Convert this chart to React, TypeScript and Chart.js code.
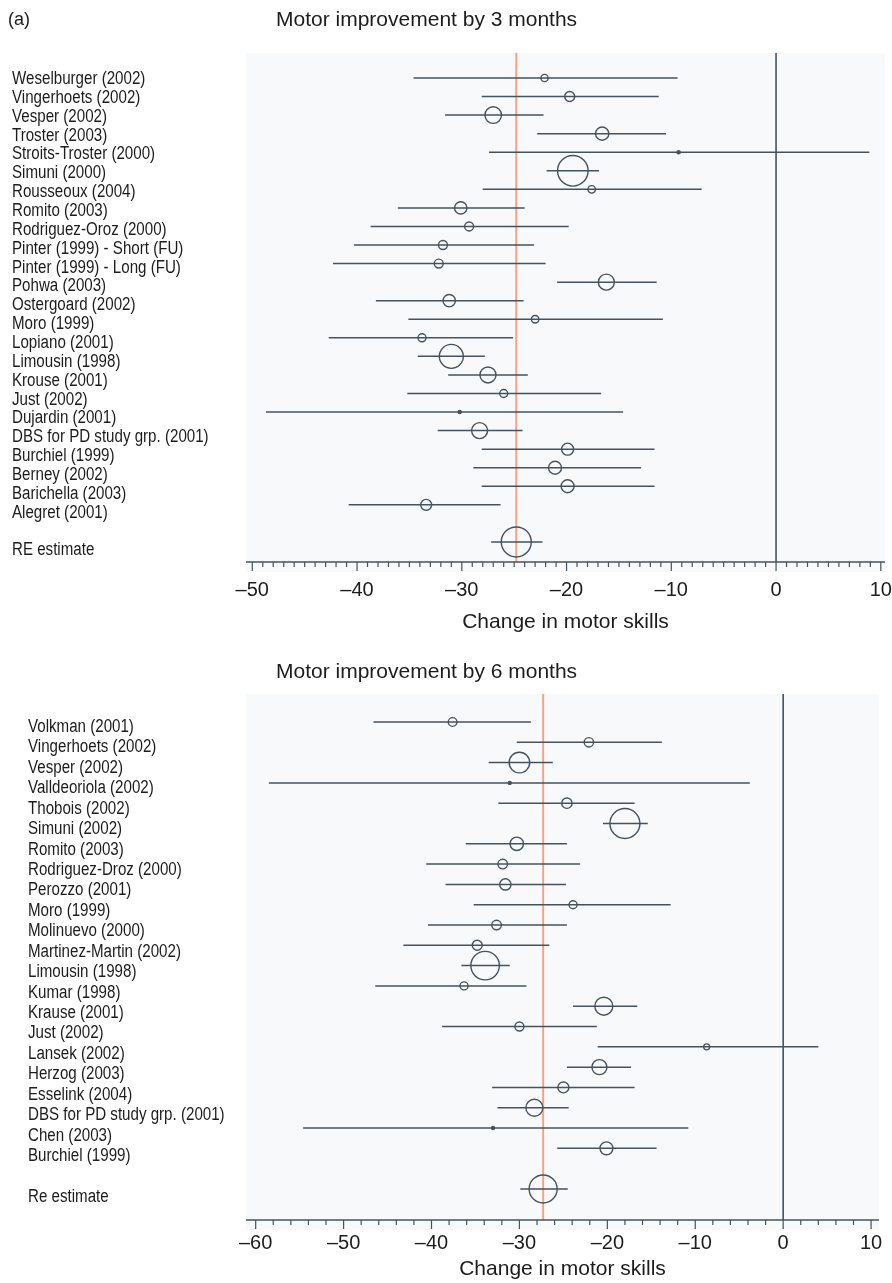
import React, { useEffect, useRef } from "react";
import { Chart, registerables } from "chart.js";

Chart.register(...registerables);

const DARK = "#46535d";
const RED = "#f4a385";
const BG = "#f7f9fb";
const TEXT = "#1c1c1c";
const FONT = "'Liberation Sans', Arial, Helvetica, sans-serif";

// ---------- Panel (a): Motor improvement by 3 months ----------
const title3 = "Motor improvement by 3 months";
const studies3 = [
  "Weselburger (2002)",
  "Vingerhoets (2002)",
  "Vesper (2002)",
  "Troster (2003)",
  "Stroits-Troster (2000)",
  "Simuni (2000)",
  "Rousseoux (2004)",
  "Romito (2003)",
  "Rodriguez-Oroz (2000)",
  "Pinter (1999) - Short (FU)",
  "Pinter (1999) - Long (FU)",
  "Pohwa (2003)",
  "Ostergoard (2002)",
  "Moro (1999)",
  "Lopiano (2001)",
  "Limousin (1998)",
  "Krouse (2001)",
  "Just (2002)",
  "Dujardin (2001)",
  "DBS for PD study grp. (2001)",
  "Burchiel (1999)",
  "Berney (2002)",
  "Barichella (2003)",
  "Alegret (2001)",
];
const est3 = [-22.1, -19.7, -27.0, -16.6, -9.3, -19.4, -17.6, -30.1, -29.3, -31.8, -32.2, -16.2, -31.2, -23.0, -33.8, -31.0, -27.5, -26.0, -30.2, -28.3, -19.9, -21.1, -19.9, -33.4];
const lo3 = [-34.6, -28.1, -31.6, -22.8, -27.4, -21.9, -28.0, -36.1, -38.7, -40.3, -42.3, -20.9, -38.2, -35.1, -42.7, -34.2, -31.3, -35.2, -48.7, -32.3, -28.1, -28.9, -28.1, -40.8];
const hi3 = [-9.4, -11.2, -22.2, -10.5, 8.9, -16.9, -7.1, -24.0, -19.8, -23.1, -22.0, -11.4, -24.1, -10.8, -25.1, -27.8, -23.7, -16.7, -14.6, -24.2, -11.6, -12.9, -11.6, -26.3];
const weight3 = [13, 25, 69, 44, 2.5, 234, 14, 38, 20, 20, 20, 64, 38, 14, 16, 144, 64, 16, 2.5, 64, 36, 42, 42, 30];
const reLabel3 = "RE estimate";
const re3 = { est: -24.8, lo: -27.2, hi: -22.3, weight: 225 };
const xTicks3 = [-50, -40, -30, -20, -10, 0, 10];

// ---------- Panel: Motor improvement by 6 months ----------
const title6 = "Motor improvement by 6 months";
const studies6 = [
  "Volkman (2001)",
  "Vingerhoets (2002)",
  "Vesper (2002)",
  "Valldeoriola (2002)",
  "Thobois (2002)",
  "Simuni (2002)",
  "Romito (2003)",
  "Rodriguez-Droz (2000)",
  "Perozzo (2001)",
  "Moro (1999)",
  "Molinuevo (2000)",
  "Martinez-Martin (2002)",
  "Limousin (1998)",
  "Kumar (1998)",
  "Krause (2001)",
  "Just (2002)",
  "Lansek (2002)",
  "Herzog (2003)",
  "Esselink (2004)",
  "DBS for PD study grp. (2001)",
  "Chen (2003)",
  "Burchiel (1999)",
];
const est6 = [-37.6, -22.1, -30.0, -31.1, -24.6, -18.0, -30.3, -31.9, -31.6, -23.9, -32.6, -34.8, -33.9, -36.3, -20.4, -30.0, -8.7, -20.9, -25.0, -28.3, -33.0, -20.1];
const lo6 = [-46.6, -30.3, -33.5, -58.5, -32.4, -20.5, -36.1, -40.6, -38.4, -35.2, -40.4, -43.2, -36.6, -46.4, -23.9, -38.8, -21.1, -24.6, -33.1, -32.5, -54.6, -25.7];
const hi6 = [-28.7, -13.8, -26.2, -3.8, -16.9, -15.4, -24.6, -23.1, -24.7, -12.8, -24.6, -26.6, -31.1, -29.2, -16.6, -21.2, 4.0, -17.3, -16.9, -24.4, -10.8, -14.4];
const weight6 = [19, 22, 106, 2.25, 27, 225, 45, 23, 32, 16, 23, 25, 204, 16, 81, 20, 9, 56, 30, 72, 2.25, 42];
const reLabel6 = "Re estimate";
const re6 = { est: -27.3, lo: -29.9, hi: -24.5, weight: 196 };
const xTicks6 = [-60, -50, -40, -30, -20, -10, 0, 10];

const axisTitle = "Change in motor skills";

type Panel = {
  title: string;
  tag?: string;
  studies: string[];
  est: number[];
  lo: number[];
  hi: number[];
  weight: number[];
  reLabel: string;
  re: { est: number; lo: number; hi: number; weight: number };
  xTicks: number[];
  xMin: number;
  xMax: number;
  yMin: number;
  yMax: number;
  ylMin: number;
  ylMax: number;
  minorStep: number;
  labelX: number;
  titleX: number;
  titleY: number;
  padding: { left: number; right: number; top: number; bottom: number };
  axisH: number;
  tickPad: number;
};

const fmt = (v: number) => (v < 0 ? "\u2013" + Math.abs(v) : String(v));

function makeDecor(p: Panel) {
  const labels = [...p.studies, "", p.reLabel];
  return {
    id: "forestDecor",
    beforeDraw(chart: any) {
      const { ctx, chartArea: a } = chart;
      ctx.save();
      ctx.fillStyle = BG;
      ctx.fillRect(a.left, a.top, a.right - a.left, a.bottom - a.top + 10);
      ctx.restore();
    },
    afterDraw(chart: any) {
      const { ctx, chartArea: a, scales } = chart;
      const x = scales.x;
      ctx.save();
      ctx.strokeStyle = DARK;
      ctx.lineWidth = 1.5;
      ctx.beginPath();
      ctx.moveTo(a.left, a.bottom);
      ctx.lineTo(a.right, a.bottom);
      ctx.stroke();
      ctx.lineWidth = 1.2;
      for (let v = Math.ceil(x.min); v <= x.max; v++) {
        if (Math.abs(v % p.minorStep) !== 0) continue;
        const px = x.getPixelForValue(v);
        const len = Math.abs(v % 10) === 0 ? 9 : 5;
        ctx.beginPath();
        ctx.moveTo(px, a.bottom);
        ctx.lineTo(px, a.bottom + len);
        ctx.stroke();
      }
      ctx.fillStyle = TEXT;
      ctx.textBaseline = "middle";
      ctx.textAlign = "left";
      ctx.font = `18px ${FONT}`;
      const yl = scales.yl;
      labels.forEach((lab, i) => {
        if (!lab) return;
        const py = yl.getPixelForValue(i);
        ctx.save();
        ctx.translate(p.labelX, py);
        ctx.scale(0.84, 1);
        ctx.fillText(lab, 0, 0);
        ctx.restore();
      });
      ctx.font = `21px ${FONT}`;
      ctx.fillText(p.title, p.titleX, p.titleY);
      if (p.tag) {
        ctx.font = `18px ${FONT}`;
        ctx.fillText(p.tag, 8, p.titleY);
      }
      ctx.restore();
    },
  };
}

function buildConfig(p: Panel): any {
  const n = p.studies.length;
  const reIdx = n + 1;
  const ests = [...p.est, p.re.est];
  const los = [...p.lo, p.re.lo];
  const his = [...p.hi, p.re.hi];
  const ws = [...p.weight, p.re.weight];
  const ys = [...p.est.map((_, i) => i), reIdx];
  const radii = ws.map((w) => Math.sqrt(w));
  const ciData: any[] = [];
  ys.forEach((y, i) => {
    ciData.push({ x: los[i], y });
    ciData.push({ x: his[i], y });
    ciData.push({ x: null, y: null });
  });
  return {
    type: "scatter",
    data: {
      datasets: [
        {
          data: [
            { x: p.re.est, y: p.yMin },
            { x: p.re.est, y: p.yMax },
          ],
          showLine: true,
          borderColor: RED,
          borderWidth: 2,
          pointRadius: 0,
          order: 10,
        },
        {
          data: [
            { x: 0, y: p.yMin },
            { x: 0, y: p.yMax },
          ],
          showLine: true,
          borderColor: DARK,
          borderWidth: 1.6,
          pointRadius: 0,
          order: 9,
        },
        {
          data: ciData,
          showLine: true,
          spanGaps: false,
          borderColor: DARK,
          borderWidth: 1.5,
          pointRadius: 0,
          order: 5,
        },
        {
          data: ests.map((e, i) => ({ x: e, y: ys[i] })),
          showLine: false,
          pointStyle: "circle",
          pointRadius: radii,
          borderColor: DARK,
          borderWidth: 1.4,
          backgroundColor: radii.map((r) => (r < 2 ? DARK : "rgba(0,0,0,0)")),
          order: 1,
        },
      ],
    },
    options: {
      animation: false,
      responsive: false,
      devicePixelRatio: 1,
      events: [],
      layout: { padding: p.padding, autoPadding: false },
      plugins: {
        legend: { display: false },
        tooltip: { enabled: false },
        title: { display: false },
      },
      scales: {
        x: {
          type: "linear",
          min: p.xMin,
          max: p.xMax,
          afterBuildTicks: (s: any) => {
            s.ticks = p.xTicks.map((v) => ({ value: v }));
          },
          afterFit: (s: any) => {
            s.height = p.axisH;
            s.paddingLeft = 0;
            s.paddingRight = 0;
          },
          ticks: {
            callback: (v: any) => fmt(Number(v)),
            font: { family: FONT, size: 20, lineHeight: 1 },
            color: TEXT,
            padding: p.tickPad,
            maxRotation: 0,
            autoSkip: false,
          },
          grid: { display: false, drawTicks: false },
          border: { display: false },
          title: {
            display: true,
            text: axisTitle,
            font: { family: FONT, size: 21, lineHeight: 1 },
            color: TEXT,
            padding: { top: 0, bottom: 0 },
          },
        },
        y: { type: "linear", display: false, min: p.yMin, max: p.yMax, reverse: true },
        yl: { type: "linear", display: false, min: p.ylMin, max: p.ylMax, reverse: true },
      },
    },
    plugins: [makeDecor(p)],
  };
}

const panel3: Panel = {
  title: title3,
  tag: "(a)",
  studies: studies3,
  est: est3,
  lo: lo3,
  hi: hi3,
  weight: weight3,
  reLabel: reLabel3,
  re: re3,
  xTicks: xTicks3,
  xMin: -50.6,
  xMax: 10.4,
  yMin: -1.347,
  yMax: 26.08,
  ylMin: -1.379,
  ylMax: 25.61,
  minorStep: 1,
  labelX: 12,
  titleX: 276,
  titleY: 20,
  padding: { left: 246, right: 7, top: 53, bottom: 17.5 },
  axisH: 70.5,
  tickPad: 18,
};

const panel6: Panel = {
  title: title6,
  studies: studies6,
  est: est6,
  lo: lo6,
  hi: hi6,
  weight: weight6,
  reLabel: reLabel6,
  re: re6,
  xTicks: xTicks6,
  xMin: -61.1,
  xMax: 10.9,
  yMin: -1.379,
  yMax: 24.53,
  ylMin: -1.615,
  ylMax: 24.13,
  minorStep: 2,
  labelX: 28,
  titleX: 276,
  titleY: 22,
  padding: { left: 246, right: 13, top: 44, bottom: 3 },
  axisH: 60,
  tickPad: 13,
};

export default function App() {
  const ref3 = useRef<HTMLCanvasElement>(null);
  const ref6 = useRef<HTMLCanvasElement>(null);
  useEffect(() => {
    const c3 = new Chart(ref3.current as HTMLCanvasElement, buildConfig(panel3));
    const c6 = new Chart(ref6.current as HTMLCanvasElement, buildConfig(panel6));
    return () => {
      c3.destroy();
      c6.destroy();
    };
  }, []);
  return (
    <div style={{ position: "absolute", left: 0, top: 0, width: 892, height: 1283, background: "#fff" }}>
      <canvas ref={ref3} width={892} height={650} style={{ position: "absolute", left: 0, top: 0, width: 892, height: 650 }} />
      <canvas ref={ref6} width={892} height={633} style={{ position: "absolute", left: 0, top: 650, width: 892, height: 633 }} />
    </div>
  );
}
